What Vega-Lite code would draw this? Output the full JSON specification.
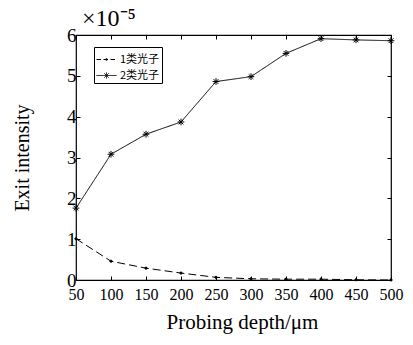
{
  "$schema": "https://vega.github.io/schema/vega-lite/v6.json",
  "width": 315,
  "height": 245,
  "autosize": "none",
  "padding": {"left": 76, "top": 35, "right": 22, "bottom": 65},
  "background": "white",
  "title": {
    "text": "×10⁻⁵",
    "anchor": "start",
    "frame": "group",
    "font": "Liberation Serif",
    "fontSize": 24,
    "fontWeight": "normal",
    "color": "black",
    "offset": -5,
    "dx": 6
  },
  "config": {
    "view": {"stroke": "black", "strokeWidth": 1.2},
    "axis": {
      "grid": false,
      "domain": false,
      "tickColor": "black",
      "tickSize": -4,
      "labelColor": "black",
      "labelFont": "Liberation Serif",
      "titleFont": "Liberation Serif",
      "titleFontWeight": "normal",
      "titleColor": "black"
    }
  },
  "data": {
    "values": [
      {"depth": 50, "series": "1类光子", "intensity": 1.01},
      {"depth": 100, "series": "1类光子", "intensity": 0.46},
      {"depth": 150, "series": "1类光子", "intensity": 0.29},
      {"depth": 200, "series": "1类光子", "intensity": 0.17},
      {"depth": 250, "series": "1类光子", "intensity": 0.065},
      {"depth": 300, "series": "1类光子", "intensity": 0.03},
      {"depth": 350, "series": "1类光子", "intensity": 0.02},
      {"depth": 400, "series": "1类光子", "intensity": 0.02},
      {"depth": 450, "series": "1类光子", "intensity": 0.006},
      {"depth": 500, "series": "1类光子", "intensity": 0.0},
      {"depth": 50, "series": "2类光子", "intensity": 1.76},
      {"depth": 100, "series": "2类光子", "intensity": 3.08},
      {"depth": 150, "series": "2类光子", "intensity": 3.57},
      {"depth": 200, "series": "2类光子", "intensity": 3.87},
      {"depth": 250, "series": "2类光子", "intensity": 4.86},
      {"depth": 300, "series": "2类光子", "intensity": 4.98},
      {"depth": 350, "series": "2类光子", "intensity": 5.55},
      {"depth": 400, "series": "2类光子", "intensity": 5.91},
      {"depth": 450, "series": "2类光子", "intensity": 5.88},
      {"depth": 500, "series": "2类光子", "intensity": 5.86}
    ]
  },
  "resolve": {"axis": {"x": "independent", "y": "independent"}},
  "layer": [
    {
      "mark": {"type": "line", "color": "black", "strokeWidth": 1},
      "encoding": {
        "x": {
          "field": "depth",
          "type": "quantitative",
          "scale": {"domain": [50, 500], "nice": false, "zero": false},
          "axis": {
            "values": [50, 100, 150, 200, 250, 300, 350, 400, 450, 500],
            "title": "Probing depth/μm",
            "titleFontSize": 21,
            "titlePadding": 9,
            "titleX": 166,
            "labelFontSize": 16,
            "labelPadding": 10,
            "labelFlush": false,
            "labelOverlap": false,
            "encode": {
              "labels": {"update": {"dx": {"signal": "datum.value === 50 ? 5 : 0"}}}
            }
          }
        },
        "y": {
          "field": "intensity",
          "type": "quantitative",
          "scale": {"domain": [0, 6], "nice": false},
          "axis": {
            "values": [0, 1, 2, 3, 4, 5, 6],
            "title": "Exit intensity",
            "titleFontSize": 20,
            "titlePadding": 34,
            "labelFontSize": 19,
            "labelPadding": 4,
            "encode": {
              "labels": {"update": {"dy": {"signal": "datum.value === 0 ? -3 : 0"}}}
            }
          }
        },
        "strokeDash": {
          "field": "series",
          "type": "nominal",
          "scale": {"domain": ["1类光子", "2类光子"], "range": [[8, 4], [1, 0]]},
          "legend": {
            "title": null,
            "orient": "none",
            "legendX": 18,
            "legendY": 12,
            "symbolSize": 400,
            "symbolStrokeColor": "black",
            "symbolFillColor": "black",
            "symbolStrokeWidth": 1,
            "labelFont": "Noto Sans CJK SC",
            "labelFontSize": 11,
            "labelColor": "black",
            "labelOffset": 3,
            "strokeColor": "black",
            "fillColor": "white",
            "padding": 2,
            "rowPadding": -5,
            "encode": {
              "symbols": {
                "update": {
                  "strokeDash": {"value": [1, 0]},
                  "shape": {
                    "signal": "datum.value === '1类光子' ? 'M-1,0L-0.55,0M-0.3,0L0.15,0M0.4,0L0.85,0M-0.06,-0.06L0.06,-0.06L0.06,0.06L-0.06,0.06Z' : 'M-1,0L1,0M0,-0.3L0,0.3M-0.21,-0.21L0.21,0.21M-0.21,0.21L0.21,-0.21'"
                  }
                }
              }
            }
          }
        }
      }
    },
    {
      "transform": [{"filter": "datum.series === '1类光子'"}],
      "mark": {"type": "point", "shape": "circle", "size": 5, "fill": "black", "stroke": "black", "strokeWidth": 1, "opacity": 1},
      "encoding": {
        "x": {
          "field": "depth",
          "type": "quantitative",
          "axis": {
            "orient": "top",
            "values": [50, 100, 150, 200, 250, 300, 350, 400, 450, 500],
            "labels": false,
            "title": null
          }
        },
        "y": {
          "field": "intensity",
          "type": "quantitative",
          "axis": {
            "orient": "right",
            "values": [0, 1, 2, 3, 4, 5, 6],
            "labels": false,
            "title": null
          }
        }
      }
    },
    {
      "transform": [{"filter": "datum.series === '2类光子'"}],
      "mark": {
        "type": "point",
        "shape": "M-1,0L1,0M0,-1L0,1M-0.7,-0.7L0.7,0.7M-0.7,0.7L0.7,-0.7",
        "size": 45,
        "fill": "black",
        "stroke": "black",
        "strokeWidth": 1,
        "opacity": 1
      },
      "encoding": {
        "x": {"field": "depth", "type": "quantitative", "axis": null},
        "y": {"field": "intensity", "type": "quantitative", "axis": null}
      }
    }
  ]
}
